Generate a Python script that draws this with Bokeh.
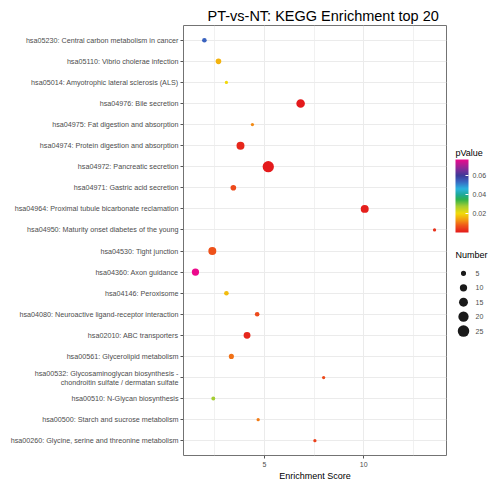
import numpy as np
from bokeh.plotting import figure
from bokeh.models import (ColumnDataSource, LinearColorMapper, ColorBar, FactorRange,
                          Range1d, FixedTicker)
from bokeh.layouts import row
from bokeh.embed import file_html
from bokeh.resources import INLINE
from bokeh.core.properties import value

# ---------------- data ----------------
title_text = "PT-vs-NT: KEGG Enrichment top 20"
x_label = "Enrichment Score"
color_title = "pValue"
size_title = "Number"

pathways = [
    "hsa05230: Central carbon metabolism in cancer",
    "hsa05110: Vibrio cholerae infection",
    "hsa05014: Amyotrophic lateral sclerosis (ALS)",
    "hsa04976: Bile secretion",
    "hsa04975: Fat digestion and absorption",
    "hsa04974: Protein digestion and absorption",
    "hsa04972: Pancreatic secretion",
    "hsa04971: Gastric acid secretion",
    "hsa04964: Proximal tubule bicarbonate reclamation",
    "hsa04950: Maturity onset diabetes of the young",
    "hsa04530: Tight junction",
    "hsa04360: Axon guidance",
    "hsa04146: Peroxisome",
    "hsa04080: Neuroactive ligand-receptor interaction",
    "hsa02010: ABC transporters",
    "hsa00561: Glycerolipid metabolism",
    "hsa00532: Glycosaminoglycan biosynthesis - chondroitin sulfate / dermatan sulfate",
    "hsa00510: N-Glycan biosynthesis",
    "hsa00500: Starch and sucrose metabolism",
    "hsa00260: Glycine, serine and threonine metabolism",
]
enrichment = [1.97, 2.68, 3.08, 6.82, 4.39, 3.79, 5.19, 3.43, 10.05, 13.57,
              2.37, 1.52, 3.08, 4.63, 4.12, 3.33, 7.98, 2.42, 4.68, 7.54]
pvalues = [0.054, 0.016, 0.020, 0.0005, 0.012, 0.002, 0.0003, 0.006, 0.001, 0.003,
           0.007, 0.077, 0.017, 0.006, 0.002, 0.010, 0.006, 0.028, 0.011, 0.005]
counts = [4, 6, 2, 14, 2, 12, 24, 6, 12, 2,
          12, 10, 4, 4, 9, 5, 2, 3, 2, 2]

x_ticks = [5, 10]
x_minor_ticks = [2.5, 7.5, 12.5]
pvalue_ticks = [0.02, 0.04, 0.06]
size_breaks = [5, 10, 15, 20, 25]

# ---------------- style / layout ----------------
FONT = "Liberation Sans"
GRAY_TXT = "#4D4D4D"
GRID = "#EBEBEB"
H = 483
TOP = 25          # frame top (both panels share it)
BOTTOM = 26       # space under the frame for the x axis
FRAME_BOTTOM = H - BOTTOM


def wrap_label(s, limit=60):
    # very long names are broken after " - " so that they fit beside the axis
    if len(s) > limit and " - " in s:
        a, b = s.split(" - ", 1)
        return a + " -\n" + b
    return s


def dot_size(n):
    return 2.3 * np.sqrt(np.asarray(n, dtype=float))


stops = [
    (0.00, "#E41A1C"), (0.10, "#F05A1A"), (0.17, "#F39A12"), (0.26, "#F2DC0A"),
    (0.36, "#A5CD32"), (0.45, "#2DB24A"), (0.52, "#1FA99A"), (0.60, "#2CB5E0"),
    (0.70, "#3A64C0"), (0.78, "#3B3A98"), (0.88, "#8B2A98"), (1.00, "#EC0A8C"),
]


def make_palette(stops, n=256):
    pos = np.array([s[0] for s in stops])
    rgb = np.array([[int(c[i:i + 2], 16) for i in (1, 3, 5)] for _, c in stops], dtype=float)
    out = []
    for v in np.linspace(0, 1, n):
        r, g, b = (np.interp(v, pos, rgb[:, k]) for k in range(3))
        out.append("#%02x%02x%02x" % (int(round(r)), int(round(g)), int(round(b))))
    return out


palette = make_palette(stops)
mapper = LinearColorMapper(palette=palette, low=min(pvalues), high=max(pvalues))

labels = [wrap_label(s) for s in pathways]
src = ColumnDataSource(dict(pathway=labels, enrichment=enrichment, pvalue=pvalues,
                            count=counts, size=dot_size(counts)))

span = max(enrichment) - min(enrichment)
x_range = Range1d(min(enrichment) - 0.05 * span, max(enrichment) + 0.05 * span)
y_range = FactorRange(factors=labels[::-1], range_padding=0.2, range_padding_units="absolute")

p = figure(width=449, height=H, x_range=x_range, y_range=y_range,
           toolbar_location=None, output_backend="svg", title=title_text,
           min_border_left=183, min_border_right=3, min_border_top=TOP,
           min_border_bottom=BOTTOM)

p.title.text_font = FONT
p.title.text_font_size = "14.5px"
p.title.text_font_style = "normal"
p.title.text_color = "black"
p.title.align = "left"
p.title.offset = 24
p.title.standoff = 4

p.outline_line_color = "#737373"
p.outline_line_width = 1
p.background_fill_color = "white"
p.border_fill_color = "white"

# x axis
p.xaxis.ticker = FixedTicker(ticks=x_ticks, minor_ticks=x_minor_ticks)
p.xaxis.axis_label = x_label
p.xaxis.axis_label_text_font = FONT
p.xaxis.axis_label_text_font_size = "9px"
p.xaxis.axis_label_text_font_style = "normal"
p.xaxis.axis_label_text_color = "black"
p.xaxis.axis_label_standoff = 1
p.xaxis.major_label_text_font = FONT
p.xaxis.major_label_text_font_size = "7px"
p.xaxis.major_label_text_color = GRAY_TXT
p.xaxis.major_label_standoff = 2
p.xaxis.axis_line_color = None
p.xaxis.major_tick_line_color = "#555555"
p.xaxis.major_tick_out = 3
p.xaxis.major_tick_in = 0
p.xaxis.minor_tick_line_color = None

# y axis
p.yaxis.major_label_text_font = FONT
p.yaxis.major_label_text_font_size = "7.2px"
p.yaxis.major_label_text_color = GRAY_TXT
p.yaxis.major_label_text_line_height = 1.0
p.yaxis.major_label_standoff = 2
p.yaxis.axis_line_color = None
p.yaxis.major_tick_line_color = "#555555"
p.yaxis.major_tick_out = 3
p.yaxis.major_tick_in = 0
p.yaxis.minor_tick_line_color = None

p.xgrid.grid_line_color = GRID
p.xgrid.grid_line_width = 1
p.xgrid.minor_grid_line_color = GRID
p.xgrid.minor_grid_line_width = 0.7
p.ygrid.grid_line_color = GRID
p.ygrid.grid_line_width = 1

p.scatter(x="enrichment", y="pathway", size="size", source=src,
          fill_color={"field": "pvalue", "transform": mapper}, line_color=None)

# ---------------- legend panel (1 data unit = 1 px) ----------------
LG_W = 42
lg = figure(width=LG_W, height=H, x_range=Range1d(0, LG_W),
            y_range=Range1d(FRAME_BOTTOM, TOP),
            toolbar_location=None, output_backend="svg",
            min_border_left=0, min_border_right=0, min_border_top=TOP,
            min_border_bottom=BOTTOM, x_axis_location=None, y_axis_location=None,
            outline_line_color=None)
lg.grid.visible = False
lg.background_fill_color = "white"
lg.border_fill_color = "white"

cb = ColorBar(color_mapper=mapper, ticker=FixedTicker(ticks=pvalue_ticks),
              major_label_text_font=FONT, major_label_text_font_size="7px",
              major_label_text_color=GRAY_TXT, label_standoff=4,
              width=13, height=73, major_tick_line_color="white", major_tick_in=3,
              major_tick_out=0, minor_tick_line_color=None, bar_line_color=None,
              padding=0, margin=0, location=(6, FRAME_BOTTOM - 234),
              background_fill_color=None, border_line_color=None)
lg.add_layout(cb, "center")

lg.text(x=[6], y=[153], text=[color_title], text_font=value(FONT), text_font_size="9px",
        text_color="black", text_baseline="middle", text_align="left")

leg_src = ColumnDataSource(dict(
    n=size_breaks,
    label=[str(b) for b in size_breaks],
    y=[274 + 14.5 * i for i in range(len(size_breaks))],
    size=dot_size(size_breaks),
))
lg.scatter(x=14, y="y", size="size", source=leg_src, fill_color="#1A1A1A", line_color=None)
lg.text(x=26, y="y", text="label", source=leg_src, text_font=value(FONT),
        text_font_size="7px", text_color=GRAY_TXT, text_baseline="middle", text_align="left")
lg.text(x=[6], y=[256], text=[size_title], text_font=value(FONT), text_font_size="9px",
        text_color="black", text_baseline="middle", text_align="left")

layout = row(p, lg)
open("out.html", "w").write(file_html(layout, INLINE))
